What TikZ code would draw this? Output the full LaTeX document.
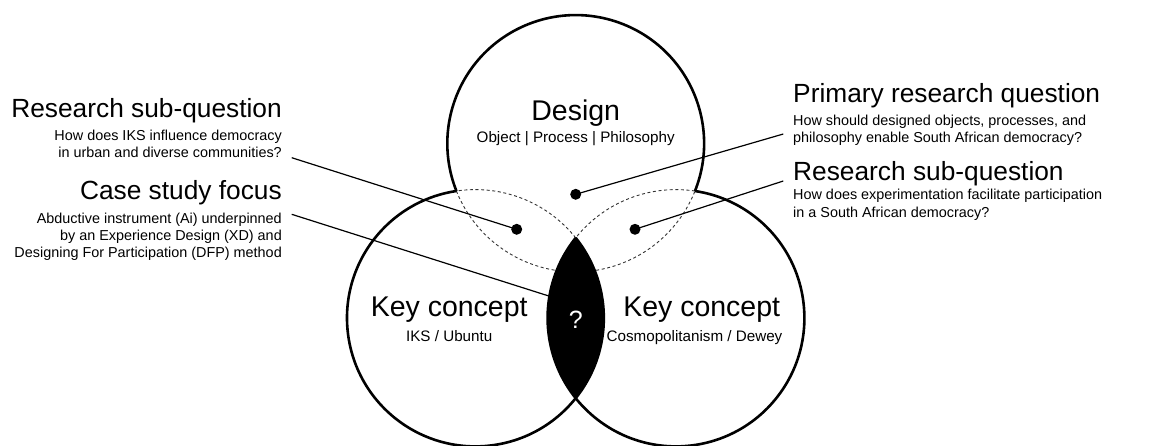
\documentclass[tikz,border=0pt]{standalone}
\usepackage{fontspec}
\setmainfont{Liberation Sans}
\usetikzlibrary{calc}
\begin{document}
\begin{tikzpicture}[x=1pt,y=1pt,
  outline/.style={line width=2.6pt,line join=round},
  dashline/.style={line width=0.9pt,dash pattern=on 3pt off 2.6pt,black!80},
  leader/.style={line width=1.2pt},
  dotmark/.style={circle,fill=black,inner sep=0pt,minimum size=11pt},
  head/.style={inner sep=0pt,font=\fontsize{26.3}{26.3}\selectfont},
  sub/.style={inner sep=0pt,font=\fontsize{14.4}{14.4}\selectfont},
  chead/.style={inner sep=0pt,font=\fontsize{28.5}{28.5}\selectfont},
  csub/.style={inner sep=0pt,font=\fontsize{15.2}{15.2}\selectfont}]
\useasboundingbox (0,0) rectangle (1159,445);
\def\rr{128.4}
% centres
\coordinate (T) at (575.7,301.5);
\coordinate (L) at (475.4,127);
\coordinate (R) at (676,127);
% dashed inner arcs
\draw[dashline] ($(T)+(201.72:\rr)$) arc[start angle=201.72,end angle=338.28,radius=\rr];
\draw[dashline] ($(L)+(38.64:\rr)$) arc[start angle=38.64,end angle=98.5,radius=\rr];
\draw[dashline] ($(R)+(81.5:\rr)$) arc[start angle=81.5,end angle=141.36,radius=\rr];
% lens
\fill[black] ($(R)+(141.36:\rr)$) arc[start angle=141.36,end angle=218.64,radius=\rr]
   arc[start angle=-38.64,end angle=38.64,radius=\rr] -- cycle;
% solid arcs
\draw[outline] ($(T)+(-21.72:\rr)$) arc[start angle=-21.72,end angle=201.72,radius=\rr];
\draw[outline] ($(L)+(98.5:\rr)$) arc[start angle=98.5,end angle=398.64,radius=\rr];
\draw[outline] ($(R)+(141.36:\rr)$) arc[start angle=141.36,end angle=441.5,radius=\rr];
% dots
\node[dotmark] (dtop) at (575.7,250.7) {};
\node[dotmark] (dleft) at (516.7,215.7) {};
\node[dotmark] (dright) at (635,215.7) {};
\coordinate (lensedge) at (548.8,149);
% leader ends
\coordinate (eA) at (291.7,287.3);
\coordinate (eB) at (291.7,230.7);
\coordinate (eC) at (783.3,311);
\coordinate (eD) at (783.3,264);
\draw[leader] (eA) -- (dleft.center);
\draw[leader] (eB) -- (lensedge);
\draw[leader] (eC) -- (dtop.center);
\draw[leader] (eD) -- (dright.center);
% left texts
\node[head,anchor=base east] (h1) at (282,327) {Research sub-question};
\node[sub,anchor=base east] (s1a) at (282,304) {How does IKS influence democracy};
\node[sub,anchor=base east] (s1b) at (282,287) {in urban and diverse communities?};
\node[head,anchor=base east] (h2) at (282,245.5) {Case study focus};
\node[sub,anchor=base east] (s2a) at (282,222) {Abductive instrument (Ai) underpinned};
\node[sub,anchor=base east] (s2b) at (282,204.7) {by an Experience Design (XD) and};
\node[sub,anchor=base east] (s2c) at (282,187.4) {Designing For Participation (DFP) method};
% right texts
\node[head,anchor=base west] (h3) at (793,342.7) {Primary research question};
\node[sub,anchor=base west] (s3a) at (793,319) {How should designed objects, processes, and};
\node[sub,anchor=base west] (s3b) at (793,302) {philosophy enable South African democracy?};
\node[head,anchor=base west] (h4) at (793,264) {Research sub-question};
\node[sub,anchor=base west] (s4a) at (793,245) {How does experimentation facilitate participation};
\node[sub,anchor=base west] (s4b) at (793,227.5) {in a South African democracy?};
% circle texts
\node[chead,anchor=base] (design) at (575.7,324.3) {Design};
\node[csub,anchor=base] (designsub) at (575.7,302) {Object | Process | Philosophy};
\node[chead,anchor=base] (kcl) at (449.2,128.3) {Key concept};
\node[csub,anchor=base] (kcls) at (449.2,103.5) {IKS / Ubuntu};
\node[chead,anchor=base] (kcr) at (701.7,128.3) {Key concept};
\node[csub,anchor=base] (kcrs) at (694.5,103.5) {Cosmopolitanism / Dewey};
\node[inner sep=0pt,text=white,font=\fontsize{25}{25}\selectfont] (q) at (575.7,125) {?};
\end{tikzpicture}
\end{document}
